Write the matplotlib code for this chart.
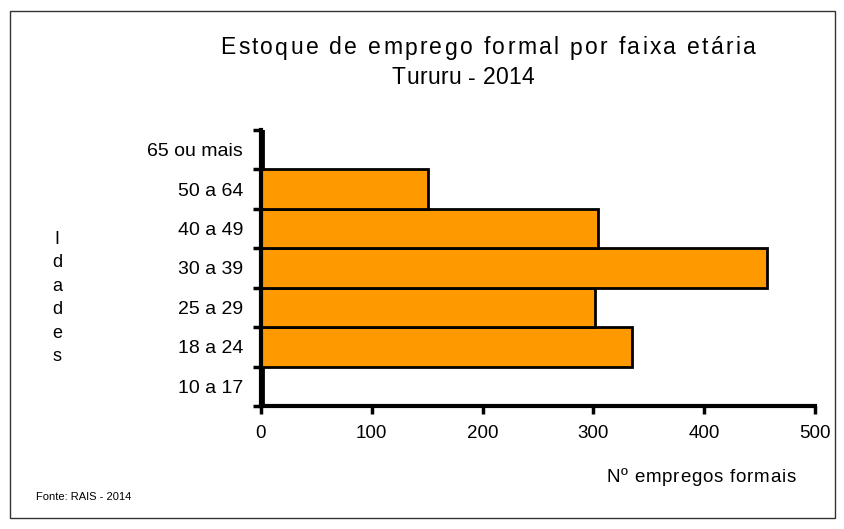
import matplotlib
matplotlib.use("Agg")
import matplotlib.pyplot as plt
from matplotlib.patches import Rectangle
from matplotlib.font_manager import FontProperties

plt.rcParams['font.family'] = ['Liberation Sans', 'DejaVu Sans']

categories = ["10 a 17", "18 a 24", "25 a 29", "30 a 39", "40 a 49", "50 a 64", "65 ou mais"]
values = [2, 335, 301, 457, 304, 151, 2]
xticks = [0, 100, 200, 300, 400, 500]

W, H = 845, 529
fig = plt.figure(figsize=(W/100, H/100), dpi=100)
fig.patches.append(Rectangle((10/W, 11/H), 825/W, 507/H, transform=fig.transFigure,
                             fill=False, edgecolor='#333333', linewidth=1))

ax = fig.add_axes([261/W, 1-406/H, (815-261)/W, (406-130)/H])
ax.barh(range(len(categories)), values, height=1.0, color='#FF9900',
        edgecolor='black', linewidth=2)
ax.set_xlim(0, 500)
ax.set_ylim(-0.5, len(categories)-0.5)
ax.set_xticks(xticks)
ax.set_xticklabels([str(x) for x in xticks], fontsize=13.5)
ax.set_yticks(range(len(categories)))
ax.set_yticklabels(categories, fontsize=14)
ax.tick_params(axis='y', which='major', length=0, pad=13)
ax.set_yticks([i-0.5 for i in range(len(categories)+1)], minor=True)
ax.tick_params(axis='y', which='minor', length=6, width=2.5, direction='out')
ax.tick_params(axis='x', length=6, width=2.5, direction='out', pad=8)
for s in ['top', 'right']:
    ax.spines[s].set_visible(False)
for s in ['left', 'bottom']:
    ax.spines[s].set_linewidth(3)

renderer = fig.canvas.get_renderer()


def spaced_text(s, xc, yc, size, spacing, ha='center'):
    prop = FontProperties(family=['Liberation Sans', 'DejaVu Sans'], size=size)
    widths = []
    for ch in s:
        if ch == ' ':
            t = fig.text(0, 0, 'a a', fontproperties=prop)
            t2 = fig.text(0, 0, 'aa', fontproperties=prop)
            w = t.get_window_extent(renderer).width - t2.get_window_extent(renderer).width
            t.remove(); t2.remove()
        else:
            t = fig.text(0, 0, ch, fontproperties=prop)
            w = t.get_window_extent(renderer).width
            t.remove()
        widths.append(w)
    total = sum(widths) + spacing * (len(s) - 1)
    if ha == 'center':
        x = xc - total / 2
    elif ha == 'left':
        x = xc
    else:
        x = xc - total
    for ch, w in zip(s, widths):
        if ch != ' ':
            fig.text(x / W, 1 - yc / H, ch, fontproperties=prop, ha='left', va='center')
        x += w + spacing


spaced_text("Estoque de emprego formal por faixa etária", 488, 48, 16.5, 2.3)
spaced_text("Tururu - 2014", 463, 78, 16.5, 0.3)
fig.text(57/W, 1-298/H, "I\nd\na\nd\ne\ns", ha='center', va='center', fontsize=13, linespacing=1.5)
spaced_text("Nº empregos formais", 701, 477, 13.5, 0.8)
fig.text(36/W, 1-497/H, "Fonte: RAIS - 2014", ha='left', va='center', fontsize=8)

fig.savefig("out.png", dpi=100)
